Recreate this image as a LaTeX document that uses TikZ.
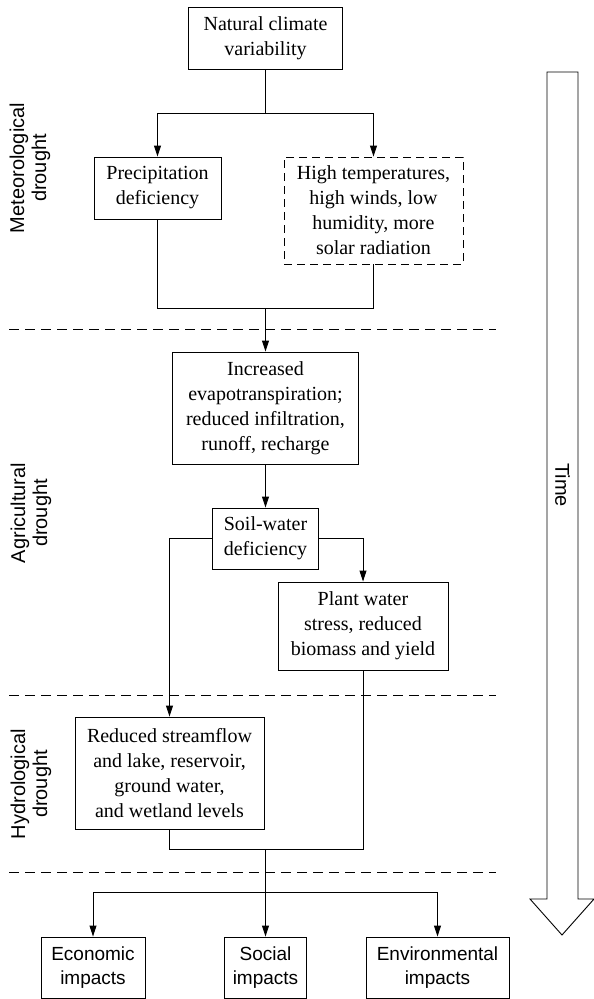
\documentclass[tikz,border=0pt]{standalone}
\usepackage{fontspec}
\setmainfont{Liberation Serif}
\setsansfont{Liberation Sans}
\usetikzlibrary{arrows.meta}
\begin{document}
\begin{tikzpicture}[x=1pt,y=-1pt,
  box/.style={draw,line width=0.9pt,inner sep=0pt,align=center,
    font=\fontsize{20}{25}\selectfont},
  dbox/.style={box,dash pattern=on 8pt off 5pt},
  ibox/.style={draw,line width=0.9pt,inner sep=0pt,align=center,
    font=\sffamily\fontsize{19}{24}\selectfont},
  link/.style={line width=0.9pt},
  arr/.style={line width=0.9pt,-{Triangle[length=11pt,width=7pt]}},
  sep/.style={line width=0.9pt,dash pattern=on 10pt off 6pt},
  stage/.style={rotate=90,align=center,inner sep=0pt,
    font=\sffamily\fontsize{20}{22}\selectfont}]
\useasboundingbox (0,0) rectangle (594,999);

% boxes of the causal chain
\node[box,minimum width=154pt,minimum height=62pt] (nat) at (265.5,38)
  {Natural climate\\variability};
\node[box,minimum width=127pt,minimum height=62pt] (pre) at (157.5,188)
  {Precipitation\\deficiency};
\node[dbox,minimum width=179pt,minimum height=107pt] (hot) at (373.5,210.5)
  {High temperatures,\\high winds, low\\humidity, more\\solar radiation};
\node[box,minimum width=186pt,minimum height=112pt] (inc) at (265.5,408)
  {Increased\\evapotranspiration;\\reduced infiltration,\\runoff, recharge};
\node[box,minimum width=106pt,minimum height=61pt] (soil) at (265.5,538.5)
  {Soil-water\\deficiency};
\node[box,minimum width=170pt,minimum height=88pt] (plant) at (363,626)
  {Plant water\\stress, reduced\\biomass and yield};
\node[box,minimum width=189pt,minimum height=112pt] (red) at (169.5,773)
  {Reduced streamflow\\and lake, reservoir,\\ground water,\\and wetland levels};
\node[ibox,minimum width=104pt,minimum height=61pt] (eco) at (93,967.5)
  {Economic\\impacts};
\node[ibox,minimum width=82pt,minimum height=61pt] (soc) at (265.5,967.5)
  {Social\\impacts};
\node[ibox,minimum width=143pt,minimum height=61pt] (env) at (437.5,967.5)
  {Environmental\\impacts};

% junction points
\coordinate (j1) at (265.5,113);
\coordinate (j2) at (265.5,308);
\coordinate (j3) at (265.5,849);
\coordinate (j4) at (265.5,892);

% connectors
\draw[link] (nat) -- (j1);
\draw[arr] (j1) -| (pre.north);
\draw[arr] (j1) -| (hot.north);
\draw[link] (pre.south) |- (j2);
\draw[link] (hot.south) |- (j2);
\draw[arr] (j2) -- (inc.north);
\draw[arr] (inc) -- (soil);
\draw[arr] (soil.west) -| (red.north);
\draw[arr] (soil.east) -| (plant.north);
\draw[link] (red.south) |- (j3);
\draw[link] (plant.south) |- (j3);
\draw[link] (j3) -- (j4);
\draw[arr] (j4) -| (eco.north);
\draw[arr] (j4) -- (soc.north);
\draw[arr] (j4) -| (env.north);

% stage boundaries
\coordinate (s1a) at (9,329);  \coordinate (s1b) at (496,329);
\coordinate (s2a) at (9,695);  \coordinate (s2b) at (496,695);
\coordinate (s3a) at (9,872);  \coordinate (s3b) at (496,872);
\draw[sep] (s1a) -- (s1b);
\draw[sep] (s2a) -- (s2b);
\draw[sep] (s3a) -- (s3b);

% stage labels
\node[stage] (met) at (30,168) {Meteorological\\drought};
\node[stage] (agr) at (31,513) {Agricultural\\drought};
\node[stage] (hyd) at (31,784) {Hydrological\\drought};

% time arrow
\draw[line width=0.9pt,line join=miter]
  (547,72) -- (578,72) -- (578,899) -- (594,899) -- (562,935)
  -- (530,899) -- (547,899) -- cycle;
\node[rotate=-90,inner sep=0pt,font=\sffamily\fontsize{20}{24}\selectfont]
  (time) at (562.5,485) {Time};
\end{tikzpicture}
\end{document}
